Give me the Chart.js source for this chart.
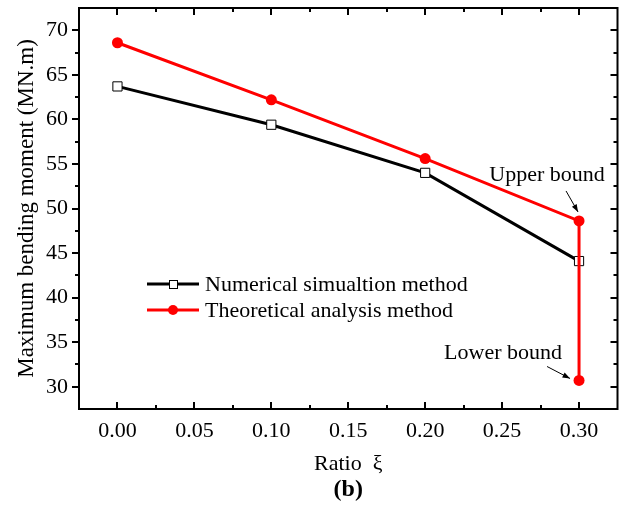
<!DOCTYPE html>
<html>
<head>
<meta charset="utf-8">
<script src="https://cdn.jsdelivr.net/npm/chart.js@4.4.0/dist/chart.umd.min.js"></script>
<style>
  html, body { margin: 0; padding: 0; background: #fff; }
  #wrap { width: 625px; height: 513px; }
</style>
</head>
<body>
<div id="wrap"><canvas id="chart" width="625" height="513"></canvas></div>
<script>
var FONT = "'Liberation Serif', 'Times New Roman', serif"

var ratio_num = [0.0, 0.1, 0.2, 0.3]
var moment_num = [63.7, 59.4, 54.0, 44.1]
var ratio_theory = [0.0, 0.1, 0.2, 0.3, 0.3]
var moment_theory = [68.6, 62.2, 55.6, 48.6, 30.7]
var x_ticks = [0.0, 0.05, 0.1, 0.15, 0.2, 0.25, 0.3]
var y_ticks = [30, 35, 40, 45, 50, 55, 60, 65, 70]
var series_names = ['Numerical simualtion method', 'Theoretical analysis method']

function points(xs, ys) {
  return xs.map(function(x, i) { return { x: x, y: ys[i] } })
}

function arrow(ctx, x1, y1, x2, y2) {
  var a = Math.atan2(y2 - y1, x2 - x1)
  ctx.beginPath()
  ctx.moveTo(x1, y1)
  ctx.lineTo(x2, y2)
  ctx.stroke()
  ctx.beginPath()
  ctx.moveTo(x2, y2)
  ctx.lineTo(x2 - 8 * Math.cos(a - 0.35), y2 - 8 * Math.sin(a - 0.35))
  ctx.lineTo(x2 - 8 * Math.cos(a + 0.35), y2 - 8 * Math.sin(a + 0.35))
  ctx.closePath()
  ctx.fill()
}

var frame = {
  id: 'frame',
  afterDraw: function(chart) {
    var ctx = chart.ctx
    var area = chart.chartArea
    var xs = chart.scales.x
    var ys = chart.scales.y
    ctx.save()
    ctx.strokeStyle = '#000'
    ctx.fillStyle = '#000'
    ctx.lineWidth = 2
    ctx.strokeRect(area.left, area.top, area.right - area.left, area.bottom - area.top)

    // x ticks: major + minor, inward on top and bottom
    for (var v = -0.025; v <= 0.3251; v += 0.025) {
      var px = Math.round(xs.getPixelForValue(v))
      if (px <= area.left + 1 || px >= area.right - 1) continue
      var major = Math.abs(Math.round(v / 0.05) * 0.05 - v) < 1e-6
      var len = major ? 7 : 4
      ctx.beginPath()
      ctx.moveTo(px, area.bottom)
      ctx.lineTo(px, area.bottom - len)
      ctx.moveTo(px, area.top)
      ctx.lineTo(px, area.top + len)
      ctx.stroke()
    }
    // y ticks: outward on left, inward on right
    for (var w = 27.5; w <= 72.51; w += 2.5) {
      var py = Math.round(ys.getPixelForValue(w))
      if (py <= area.top + 1 || py >= area.bottom - 1) continue
      var majorY = Math.abs(w % 5) < 1e-6
      var l = majorY ? 7 : 4
      ctx.beginPath()
      ctx.moveTo(area.left, py)
      ctx.lineTo(area.left - l, py)
      ctx.moveTo(area.right, py)
      ctx.lineTo(area.right - l, py)
      ctx.stroke()
    }

    // legend
    var lx = 147
    var rows = [
      { y: 284, color: '#000', square: true },
      { y: 310, color: '#ff0000', square: false },
    ]
    ctx.font = '22px ' + FONT
    ctx.textBaseline = 'middle'
    ctx.textAlign = 'left'
    rows.forEach(function(r, i) {
      ctx.strokeStyle = r.color
      ctx.lineWidth = 3
      ctx.beginPath()
      ctx.moveTo(lx, r.y)
      ctx.lineTo(lx + 52, r.y)
      ctx.stroke()
      if (r.square) {
        ctx.fillStyle = '#fff'
        ctx.fillRect(lx + 22, r.y - 4, 8, 8)
        ctx.lineWidth = 1
        ctx.strokeStyle = '#000'
        ctx.strokeRect(lx + 22.5, r.y - 3.5, 8, 8)
      } else {
        ctx.fillStyle = r.color
        ctx.beginPath()
        ctx.arc(lx + 26, r.y, 5, 0, Math.PI * 2)
        ctx.fill()
      }
      ctx.fillStyle = '#000'
      ctx.fillText(series_names[i], lx + 58, r.y + 1)
    })

    // annotations
    var up = { x: xs.getPixelForValue(0.3), y: ys.getPixelForValue(48.6) }
    var lo = { x: xs.getPixelForValue(0.3), y: ys.getPixelForValue(30.7) }
    ctx.fillStyle = '#000'
    ctx.strokeStyle = '#000'
    ctx.lineWidth = 1
    ctx.textAlign = 'center'
    ctx.fillText('Upper bound', up.x - 32, up.y - 46)
    arrow(ctx, up.x - 13, up.y - 30, up.x - 1, up.y - 9)
    ctx.fillText('Lower bound', lo.x - 76, lo.y - 27)
    arrow(ctx, lo.x - 32, lo.y - 14, lo.x - 9, lo.y - 2)

    // x title and caption
    var cx = (area.left + area.right) / 2
    ctx.fillText('Ratio  \u03be', cx, 464)
    ctx.font = 'bold 24px ' + FONT
    ctx.fillText('(b)', cx, 490)
    ctx.restore()
  },
}

new Chart(document.getElementById('chart').getContext('2d'), {
  type: 'scatter',
  data: {
    datasets: [
      {
        label: series_names[0],
        data: points(ratio_num, moment_num),
        showLine: true,
        borderColor: '#000',
        borderWidth: 3,
        pointStyle: 'rect',
        pointRadius: 6.5,
        pointBackgroundColor: '#fff',
        pointBorderColor: '#000',
        pointBorderWidth: 1,
        order: 2,
      },
      {
        label: series_names[1],
        data: points(ratio_theory, moment_theory),
        showLine: true,
        borderColor: '#ff0000',
        borderWidth: 3,
        pointStyle: 'circle',
        pointRadius: 5.5,
        pointBackgroundColor: '#ff0000',
        pointBorderColor: '#ff0000',
        pointBorderWidth: 0,
        order: 1,
      },
    ],
  },
  options: {
    responsive: false,
    animation: false,
    layout: { padding: { top: 8, right: 3, left: 0, bottom: 0 } },
    plugins: {
      legend: { display: false },
      tooltip: { enabled: false },
    },
    scales: {
      x: {
        type: 'linear',
        min: -0.025,
        max: 0.325,
        afterFit: function(s) {
          s.height = 104
          s.paddingLeft = 0
          s.paddingRight = 0
        },
        afterBuildTicks: function(s) { s.ticks = x_ticks.map(function(v) { return { value: v } }) },
        grid: { display: false, drawTicks: false },
        border: { display: false },
        ticks: {
          padding: 9,
          color: '#000',
          font: { family: FONT, size: 22 },
          callback: function(v) { return Number(v).toFixed(2) },
        },
      },
      y: {
        min: 27.5,
        max: 72.5,
        afterFit: function(s) {
          s.width = 79
          s.paddingTop = 0
          s.paddingBottom = 0
        },
        afterBuildTicks: function(s) { s.ticks = y_ticks.map(function(v) { return { value: v } }) },
        grid: { display: false, drawTicks: false },
        border: { display: false },
        ticks: {
          padding: 11,
          color: '#000',
          font: { family: FONT, size: 22 },
        },
        title: {
          display: true,
          text: 'Maximum bending moment (MN.m)',
          color: '#000',
          font: { family: FONT, size: 23 },
          padding: { top: 13, bottom: 0 },
        },
      },
    },
  },
  plugins: [frame],
})
</script>
</body>
</html>
